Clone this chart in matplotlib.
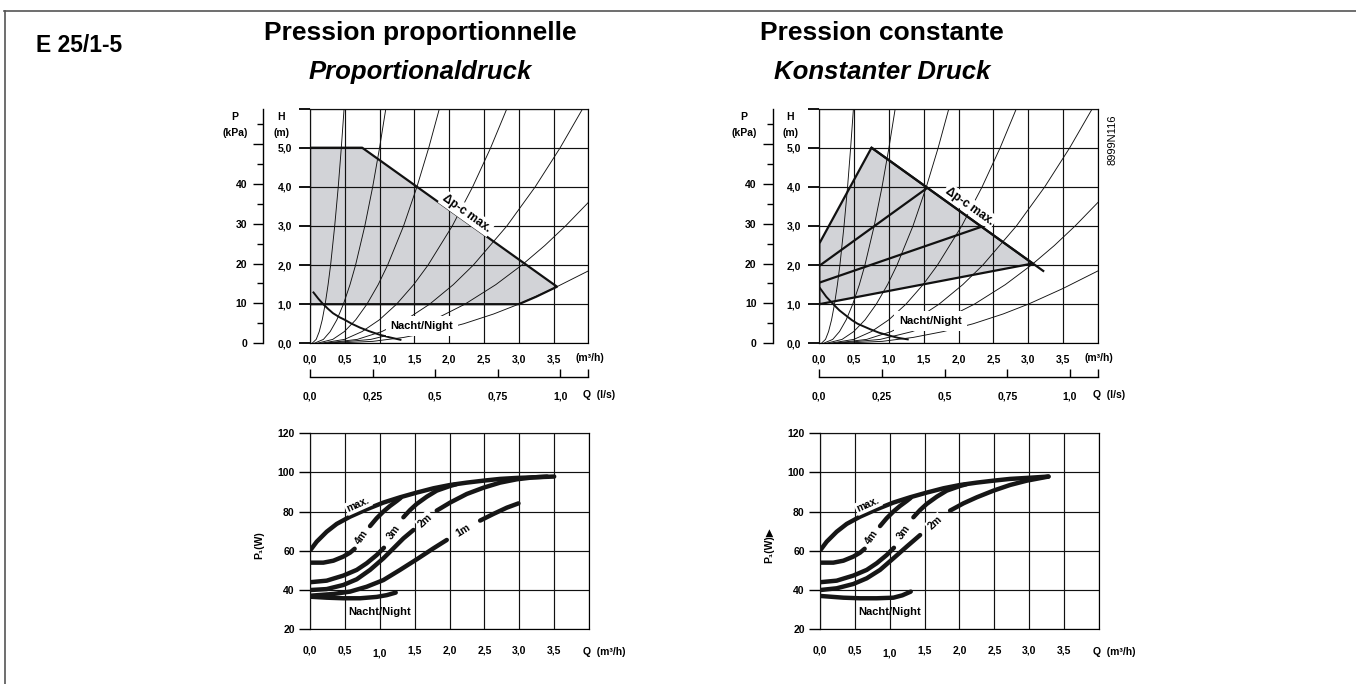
import numpy as np
import matplotlib
matplotlib.use("Agg")
import matplotlib.pyplot as plt
from matplotlib.transforms import ScaledTranslation

plt.rcParams["font.family"] = ["Liberation Sans", "DejaVu Sans"]

FIG_W, FIG_H = 1356, 684

# ── head charts: thin system curves (Q m3/h, H m), same in both ──
SYS_Q = [
    [0.03, 0.089, 0.133, 0.176, 0.218, 0.26, 0.296, 0.355, 0.406, 0.45, 0.49],
    [0.06, 0.193, 0.290, 0.386, 0.480, 0.575, 0.655, 0.788, 0.901, 1.000, 1.09],
    [0.10, 0.327, 0.494, 0.657, 0.818, 0.98, 1.116, 1.345, 1.537, 1.707, 1.86],
    [0.15, 0.496, 0.749, 0.997, 1.244, 1.49, 1.697, 2.045, 2.338, 2.597, 2.83],
    [0.20, 0.680, 1.032, 1.376, 1.719, 2.06, 2.348, 2.83, 3.237, 3.596, 3.92],
    [0.25, 0.875, 1.333, 1.781, 2.226, 2.671, 3.045, 3.375, 3.673, 4.0],
    [0.30, 0.904, 1.346, 1.78, 2.21, 2.64, 3.0, 3.497, 4.0],
]
SYS_H = [
    [0, 0.1, 0.3, 0.6, 1, 1.5, 2, 3, 4, 5, 6],
    [0, 0.1, 0.3, 0.6, 1, 1.5, 2, 3, 4, 5, 6],
    [0, 0.1, 0.3, 0.6, 1, 1.5, 2, 3, 4, 5, 6],
    [0, 0.1, 0.3, 0.6, 1, 1.5, 2, 3, 4, 5, 6],
    [0, 0.1, 0.3, 0.6, 1, 1.5, 2, 3, 4, 5, 6],
    [0, 0.1, 0.3, 0.6, 1, 1.5, 2, 2.5, 3, 3.6],
    [0, 0.05, 0.15, 0.3, 0.5, 0.75, 1.0, 1.4, 1.85],
]

# proportional pressure field
PROP_Q = [0.0, 0.0, 0.75, 3.55, 3.25, 3.0]
PROP_H = [1.0, 5.0, 5.0, 1.447, 1.19, 1.0]
PROP_NIGHT_Q = [0.05, 0.12, 0.19, 0.26, 0.33, 0.42, 0.5, 0.6, 0.72, 0.85, 1.0, 1.15, 1.3]
PROP_NIGHT_H = [1.30, 1.14, 1.0, 0.88, 0.77, 0.67, 0.60, 0.50, 0.40, 0.31, 0.22, 0.15, 0.09]

# constant pressure field
CONST_Q = [0.0, 0.0, 0.75, 3.064]
CONST_H = [1.0, 2.55, 5.0, 2.04]
CONST_MAX_Q = [0.75, 3.215]
CONST_MAX_H = [5.0, 1.85]
CONST_SET_Q = [[0.0, 1.54], [0.0, 2.33]]
CONST_SET_H = [[1.98, 3.96], [1.55, 2.98]]
CONST_NIGHT_Q = [0.01, 0.1, 0.2, 0.29, 0.39, 0.47, 0.55, 0.64, 0.73, 0.86, 1.0, 1.13, 1.27]
CONST_NIGHT_H = [1.41, 1.19, 1.0, 0.84, 0.70, 0.59, 0.50, 0.43, 0.36, 0.27, 0.20, 0.14, 0.10]

Q_TICKS = [0, 0.5, 1.0, 1.5, 2.0, 2.5, 3.0, 3.5, 4.0]
Q_LABELS = ["0,0", "0,5", "1,0", "1,5", "2,0", "2,5", "3,0", "3,5", ""]
H_TICKS = [0, 1, 2, 3, 4, 5, 6]
H_LABELS = ["0,0", "1,0", "2,0", "3,0", "4,0", "5,0", ""]
P_TICKS = [0, 10, 20, 30, 40, 50]
P_LABELS = ["0", "10", "20", "30", "40", ""]
LS_TICKS = [0, 0.25, 0.5, 0.75, 1.0, 4.0 / 3.6]
LS_LABELS = ["0,0", "0,25", "0,5", "0,75", "1,0", ""]

# ── power charts (Q m3/h, P1 W); None splits a curve where its label sits ──
MAX_Q = [0.014, 0.096, 0.239, 0.383, 0.574, 0.813, 1.052, 1.291, 1.53, 1.769,
         2.009, 2.248, 2.487, 2.726, 2.965, 3.204, 3.501]
MAX_W = [60.7, 64.6, 69.7, 73.7, 77.4, 81.2, 84.6, 87.3, 89.7, 91.9,
         93.6, 94.8, 95.8, 96.7, 97.2, 97.5, 97.9]
M4_Q = [0.0, 0.191, 0.335, 0.478, 0.574, 0.64, None, 0.861, 0.956, 1.052, 1.148, 1.243, 1.30]
M4_W = [53.9, 53.9, 54.9, 57.0, 59.0, 61.0, None, 72.6, 76.6, 80.0, 82.9, 85.4, 87.0]
M3_Q = [0.0, 0.239, 0.478, 0.67, 0.813, 0.956, 1.06, None, 1.339, 1.435, 1.53, 1.674, 1.817, 2.009, 2.10]
M3_W = [43.9, 44.7, 47.3, 50.2, 53.6, 57.8, 61.5, None, 77.1, 80.8, 83.9, 87.6, 90.7, 93.1, 94.0]
M2_Q = [0.0, 0.239, 0.478, 0.67, 0.861, 1.052, 1.196, 1.339, 1.483, None,
        1.817, 2.009, 2.248, 2.487, 2.726, 2.965, 3.204, 3.40]
M2_W = [39.9, 40.4, 42.5, 45.4, 50.2, 56.1, 61.2, 66.3, 70.6, None,
        80.5, 84.6, 89.0, 92.2, 94.8, 96.5, 97.5, 97.9]
M1_Q = [0.0, 0.335, 0.574, 0.813, 1.052, 1.291, 1.53, 1.769, 1.961, None,
        2.439, 2.63, 2.822, 2.989]
M1_W = [37.0, 37.9, 39.1, 41.6, 45.0, 50.2, 55.6, 61.2, 65.5, None,
        75.4, 78.8, 82.0, 84.2]
NIGHT_Q = [0.0, 0.239, 0.478, 0.717, 0.956, 1.1, 1.229]
NIGHT_W = [36.5, 36.0, 35.7, 35.7, 36.4, 37.3, 38.6]

MAXC_Q = MAX_Q[:-2] + [3.276]
MAXC_W = MAX_W[:-2] + [97.9]
M2C_Q = [0.0, 0.239, 0.478, 0.67, 0.861, 1.052, 1.243, 1.435, None,
         1.865, 2.056, 2.248, 2.487, 2.726, 2.965, 3.276]
M2C_W = [39.9, 40.8, 43.0, 45.9, 50.2, 56.1, 62.1, 68.0, None,
         80.5, 84.2, 87.3, 90.7, 93.6, 95.8, 97.9]
NIGHTC_Q = [0.0, 0.335, 0.574, 0.813, 1.052, 1.18, 1.301]
NIGHTC_W = [36.9, 36.0, 35.7, 35.7, 36.0, 37.2, 39.1]

PW_PROP = [(MAX_Q, MAX_W), (M4_Q, M4_W), (M3_Q, M3_W), (M2_Q, M2_W),
           (M1_Q, M1_W), (NIGHT_Q, NIGHT_W)]
PW_CONST = [(MAXC_Q, MAXC_W), (M4_Q, M4_W), (M3_Q, M3_W), (M2C_Q, M2C_W),
            (NIGHTC_Q, NIGHTC_W)]
# curve label: text, Q, P1, rotation
PW_LABELS_PROP = [("max.", 0.69, 83.6, 24), ("4m", 0.74, 66.8, 55), ("3m", 1.20, 69.5, 54),
                  ("2m", 1.65, 75.5, 42), ("1m", 2.20, 70.5, 32)]
PW_LABELS_CONST = [("max.", 0.69, 83.6, 24), ("4m", 0.74, 66.8, 55), ("3m", 1.20, 69.5, 54),
                   ("2m", 1.65, 74.3, 42)]
PW_TICKS = [20, 40, 60, 80, 100, 120]


def rect(x0, y0, x1, y1):
    return [x0 / FIG_W, 1 - y1 / FIG_H, (x1 - x0) / FIG_W, (y1 - y0) / FIG_H]


def seg(vals):
    return [np.nan if v is None else v for v in vals]


WHITE_BOX = dict(boxstyle="square,pad=0.15", fc="white", ec="none")
NIGHT_BOX = dict(boxstyle="square,pad=0.45", fc="white", ec="none")


def head_frame(ax):
    ax.set_xlim(0, 4)
    ax.set_ylim(0, 6)
    ax.set_axisbelow(False)
    ax.set_xticks(Q_TICKS, Q_LABELS, fontsize=7.5, fontweight="bold")
    ax.set_yticks(H_TICKS, H_LABELS, fontsize=7.5, fontweight="bold")
    ax.tick_params(axis="x", length=0, pad=8)
    ax.tick_params(axis="y", length=8, width=1.3, pad=5)
    ax.grid(True, color="#111111", lw=0.85)
    for s in ax.spines.values():
        s.set_linewidth(0.85)
    # pressure axis (kPa)
    pax = ax.secondary_yaxis(-0.1678, functions=(lambda h: h * 9.81, lambda p: p / 9.81))
    pax.set_yticks(P_TICKS, P_LABELS, fontsize=7.5, fontweight="bold")
    pax.set_yticks(np.arange(5, 60, 10), minor=True)
    pax.tick_params(axis="y", which="major", length=7.5, width=1.0, pad=4)
    pax.tick_params(axis="y", which="minor", length=4.5, width=1.0)
    pax.spines["left"].set_linewidth(1.0)
    # flow axis (l/s)
    qax = ax.secondary_xaxis(-0.1423, functions=(lambda q: q / 3.6, lambda l: l * 3.6))
    qax.set_xticks(LS_TICKS, LS_LABELS, fontsize=7.5, fontweight="bold")
    qax.set_xticks([1.0], minor=True)
    qax.tick_params(axis="x", which="major", direction="in", length=6, width=1.0, pad=11)
    qax.tick_params(axis="x", which="minor", direction="out", length=5, width=1.0)
    qax.spines["bottom"].set_linewidth(1.0)
    # unit captions
    kw = dict(transform=ax.transAxes, ha="center", va="center", fontsize=7.5, fontweight="bold")
    ax.text(-0.104, 0.964, "H", **kw)
    ax.text(-0.104, 0.896, "(m)", **kw)
    ax.text(-0.27, 0.964, "P", **kw)
    ax.text(-0.27, 0.896, "(kPa)", **kw)
    ax.text(1.005, -0.063, "(m³/h)", **kw)
    ax.text(1.04, -0.22, "Q  (l/s)", **kw)
    for q, h in zip(SYS_Q, SYS_H):
        ax.plot(q, h, color="#111111", lw=0.65, zorder=3)


def power_frame(ax, ylabel):
    ax.set_xlim(0, 4)
    ax.set_ylim(20, 120)
    ax.set_axisbelow(False)
    ax.set_xticks(Q_TICKS, Q_LABELS, fontsize=7.5, fontweight="bold")
    ax.set_yticks(PW_TICKS, [str(v) for v in PW_TICKS], fontsize=7.5, fontweight="bold")
    ax.tick_params(axis="x", length=0, pad=12)
    ax.tick_params(axis="y", length=8, width=1.0, pad=3)
    ax.grid(True, color="#111111", lw=0.85)
    for s in ax.spines.values():
        s.set_linewidth(0.85)
    # the "1,0" label sits a little lower in the original print
    lbl = ax.get_xticklabels()[2]
    lbl.set_transform(lbl.get_transform() + ScaledTranslation(0, -2.5 / 100, fig.dpi_scale_trans))
    kw = dict(transform=ax.transAxes, ha="center", va="center", fontsize=7.5, fontweight="bold")
    ax.text(1.055, -0.116, "Q  (m³/h)", **kw)
    ax.text(-0.183, 0.43, ylabel, rotation=90, **kw)


def power_curves(ax, curves, labels):
    for q, p in curves:
        ax.plot(seg(q), seg(p), color="#161616", lw=3.2, solid_capstyle="round",
                solid_joinstyle="round", zorder=3)
    for txt, q, p, rot in labels:
        ax.text(q, p, txt, rotation=rot, ha="center", va="center", fontsize=7.5,
                fontweight="bold", bbox=WHITE_BOX, zorder=5)
    ax.text(1.0, 28.6, "Nacht/Night", ha="center", va="center", fontsize=8,
            fontweight="bold", zorder=5)


fig = plt.figure(figsize=(FIG_W / 100, FIG_H / 100), dpi=100)

# ── proportional pressure ─────────────────────────
ax1 = fig.add_axes(rect(310, 108.6, 588.3, 343.3))
head_frame(ax1)
ax1.fill(PROP_Q, PROP_H, fc="#d2d3d7", ec="none", zorder=0.8)
ax1.plot(PROP_Q + [PROP_Q[0]], PROP_H + [PROP_H[0]], color="#111111", lw=1.6, zorder=3.5)
ax1.plot(PROP_NIGHT_Q, PROP_NIGHT_H, color="#111111", lw=1.4, zorder=3.5)
ax1.text(2.25, 3.32, "Δp-c max.", rotation=-35.5, ha="center", va="center", fontsize=8.5,
         fontweight="bold", bbox=WHITE_BOX, zorder=5)
ax1.text(1.61, 0.45, "Nacht/Night", ha="center", va="center", fontsize=8, fontweight="bold",
         bbox=NIGHT_BOX, zorder=5)

# ── constant pressure ─────────────────────────────
ax2 = fig.add_axes(rect(819.3, 108.6, 1097.9, 343.3))
head_frame(ax2)
ax2.fill(CONST_Q, CONST_H, fc="#d2d3d7", ec="none", zorder=0.8)
ax2.plot(CONST_Q + [CONST_Q[0]], CONST_H + [CONST_H[0]], color="#111111", lw=1.6, zorder=3.5)
ax2.plot(CONST_MAX_Q, CONST_MAX_H, color="#111111", lw=1.6, zorder=3.5)
for q, h in zip(CONST_SET_Q, CONST_SET_H):
    ax2.plot(q, h, color="#111111", lw=1.6, zorder=3.5)
ax2.plot(CONST_NIGHT_Q, CONST_NIGHT_H, color="#111111", lw=1.4, zorder=3.5)
ax2.text(2.16, 3.51, "Δp-c max.", rotation=-35.5, ha="center", va="center", fontsize=8.5,
         fontweight="bold", bbox=WHITE_BOX, zorder=5)
ax2.text(1.60, 0.57, "Nacht/Night", ha="center", va="center", fontsize=8, fontweight="bold",
         bbox=NIGHT_BOX, zorder=5)

# ── power charts ──────────────────────────────────
ax3 = fig.add_axes(rect(310, 433.3, 589, 629))
power_frame(ax3, "P₁(W)")
power_curves(ax3, PW_PROP, PW_LABELS_PROP)

ax4 = fig.add_axes(rect(820, 433.3, 1099, 629))
power_frame(ax4, "P₁(W)▶")
power_curves(ax4, PW_CONST, PW_LABELS_CONST)

# ── headings and frame ────────────────────────────
def ft(x, y, s, **kw):
    fig.text(x / FIG_W, 1 - y / FIG_H, s, ha="center", va="center", **kw)

ft(79, 45, "E 25/1-5", fontsize=16.5, fontweight="bold")
ft(420, 33, "Pression proportionnelle", fontsize=19, fontweight="bold")
ft(420, 72, "Proportionaldruck", fontsize=18.5, fontweight="bold", style="italic")
ft(882, 33, "Pression constante", fontsize=19, fontweight="bold")
ft(882, 72, "Konstanter Druck", fontsize=18.5, fontweight="bold", style="italic")
ft(1113, 140, "8999N116", fontsize=8, rotation=90)

fig.add_artist(plt.Line2D([4 / FIG_W, 1], [1 - 11 / FIG_H] * 2, color="#555555", lw=1.2))
fig.add_artist(plt.Line2D([5 / FIG_W] * 2, [0, 1 - 11 / FIG_H], color="#555555", lw=1.2))

fig.savefig("out.png", dpi=100, facecolor="white")
